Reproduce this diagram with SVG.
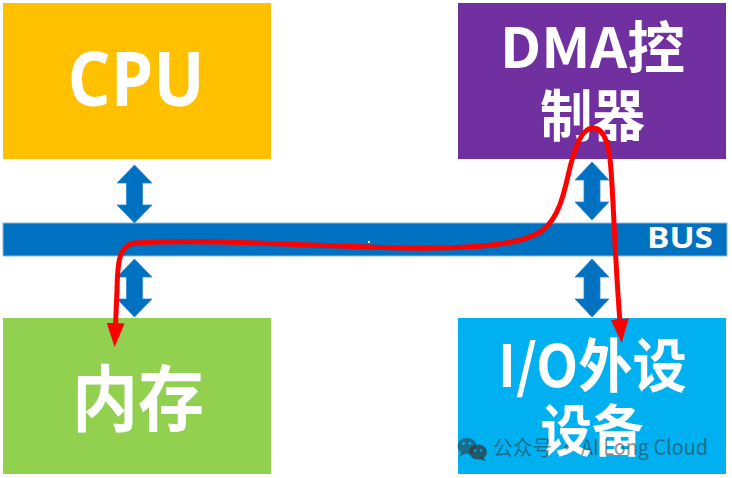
<svg xmlns="http://www.w3.org/2000/svg" width="732" height="478" viewBox="0 0 732 478">
<style>
.lbl{font-family:"Open Sans","Noto Sans CJK SC",sans-serif;font-weight:bold;fill:#fff;text-anchor:middle}
.cjk{font-family:"Noto Sans CJK SC","Open Sans",sans-serif;font-weight:bold;fill:#fff;text-anchor:middle}
.dbl{fill:#0070C0;stroke:#2E86D0;stroke-width:0.8}
.wm{font-family:"Noto Sans CJK SC","Open Sans",sans-serif;font-size:21px;fill:#333;fill-opacity:0.55}
</style>
<defs>
<marker id="redhead" markerUnits="userSpaceOnUse" markerWidth="24" markerHeight="18" refX="3" refY="9" orient="auto-start-reverse" viewBox="0 0 24 18">
<path d="M0,0 L24,9 L0,18 Z" fill="#FF0000"/>
</marker>
</defs>
<rect width="732" height="478" fill="#fff"/>
<g id="cpu">
<rect x="3" y="3" width="268" height="156" fill="#FFC000"/>
<text class="lbl" x="136" y="106" font-size="76" textLength="137" lengthAdjust="spacingAndGlyphs">CPU</text>
</g>
<g id="dma">
<rect x="458" y="3" width="268" height="156" fill="#7030A0"/>
<text class="cjk" x="592.5" y="68" font-size="56" textLength="185" lengthAdjust="spacingAndGlyphs">DMA控</text>
<text class="cjk" x="592.5" y="136" font-size="56" textLength="105" lengthAdjust="spacingAndGlyphs">制器</text>
</g>
<g id="memory">
<rect x="3" y="318" width="268" height="156" fill="#92D050"/>
<text class="cjk" x="138" y="425" font-size="72" textLength="132" lengthAdjust="spacingAndGlyphs">内存</text>
</g>
<g id="io">
<rect x="458" y="318" width="268" height="156" fill="#00B0F0"/>
<text class="cjk" x="592.5" y="387" font-size="58" textLength="189" lengthAdjust="spacingAndGlyphs">I/O外设</text>
<text class="cjk" x="592" y="451" font-size="56" textLength="103" lengthAdjust="spacingAndGlyphs">设备</text>
</g>
<g id="bus">
<rect x="3" y="223" width="724" height="33" fill="#0070C0" stroke="#8FB8E0" stroke-width="1"/>
<text class="lbl" x="680" y="247.5" font-size="28" textLength="66" lengthAdjust="spacingAndGlyphs">BUS</text>
<rect x="368" y="241" width="2" height="2" fill="#fff"/>
</g>
<g id="connectors">
<path class="dbl" d="M134.5,165 L152,183 L142.5,183 L142.5,205 L152,205 L134.5,223 L117,205 L126.5,205 L126.5,183 L117,183 Z"/>
<path class="dbl" d="M134.5,259 L152,277 L142.5,277 L142.5,299 L152,299 L134.5,317 L117,299 L126.5,299 L126.5,277 L117,277 Z"/>
<path class="dbl" d="M592,162 L609,180 L600,180 L600,202 L609,202 L592,220 L575,202 L584,202 L584,180 L575,180 Z"/>
<path class="dbl" d="M592,259 L609,277 L600,277 L600,299 L609,299 L592,317 L575,299 L584,299 L584,277 L575,277 Z"/>
<path d="M115.5,326 L117,290 C117.5,262 119,245 135,243 C200,239 300,245 380,247.5 C450,249.5 520,248 543,230 C563,214 566,180 572,160 C578,138 585,127 594,128 C603,129 609,140 611,170 C614,210 615,260 620,322" fill="none" stroke="#FF0000" stroke-width="5" stroke-linejoin="round" marker-start="url(#redhead)" marker-end="url(#redhead)"/>
</g>
<g id="watermark">
<ellipse cx="467" cy="446" rx="9.5" ry="8" fill="#333" fill-opacity="0.55"/>
<path d="M461,452 L459,457 L465,454 Z" fill="#333" fill-opacity="0.55"/>
<ellipse cx="478" cy="452" rx="9" ry="7.5" fill="#333" fill-opacity="0.7"/>
<path d="M483,457 L486,461 L479,459 Z" fill="#333" fill-opacity="0.7"/>
<circle cx="463.5" cy="443.5" r="1.4" fill="#00B0F0"/>
<circle cx="470" cy="443.5" r="1.4" fill="#00B0F0"/>
<circle cx="475" cy="450.5" r="1.2" fill="#00B0F0"/>
<circle cx="481" cy="450.5" r="1.2" fill="#00B0F0"/>
<text class="wm" x="493" y="455" textLength="215" lengthAdjust="spacingAndGlyphs">公众号 · AI Long Cloud</text>
</g>
</svg>
